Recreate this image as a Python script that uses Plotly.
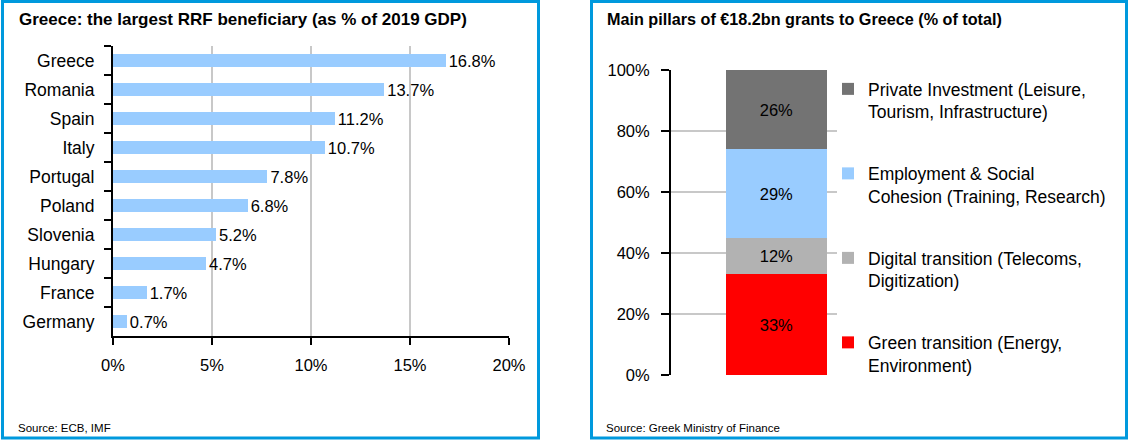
import plotly.graph_objects as go

# ---------------- data ----------------
countries = ["Greece", "Romania", "Spain", "Italy", "Portugal",
             "Poland", "Slovenia", "Hungary", "France", "Germany"]
rrf_pct = [16.8, 13.7, 11.2, 10.7, 7.8, 6.8, 5.2, 4.7, 1.7, 0.7]
x_tick_vals = [0, 5, 10, 15, 20]
x_tick_labels = ["0%", "5%", "10%", "15%", "20%"]

pillar_names = [
    "Green transition (Energy,<br>Environment)",
    "Digital transition (Telecoms,<br>Digitization)",
    "Employment & Social<br>Cohesion (Training, Research)",
    "Private Investment (Leisure,<br>Tourism, Infrastructure)",
]
pillar_pct = [33, 12, 29, 26]
pillar_colors = ["#FF0000", "#B2B2B2", "#99CCFF", "#737373"]
pillar_legend_rank = [4, 3, 2, 1]
y_tick_vals = [0, 20, 40, 60, 80, 100]
y_tick_labels = ["0%", "20%", "40%", "60%", "80%", "100%"]

left_title = "Greece: the largest RRF beneficiary (as % of 2019 GDP)"
right_title = "Main pillars of €18.2bn grants to Greece (% of total)"
left_source = "Source: ECB, IMF"
right_source = "Source: Greek Ministry of Finance"

# ---------------- layout helpers ----------------
W, H = 1130, 443
FONT = "Liberation Sans, Arial, sans-serif"


def px(x):
    return x / W


def py(y):
    return 1 - y / H


fig = go.Figure()

# left: horizontal bars
fig.add_trace(go.Bar(
    x=rrf_pct, y=countries, orientation="h",
    marker=dict(color="#99CCFF", line=dict(width=0)),
    width=0.46,
    texttemplate="%{x:.1f}%", textposition="outside",
    constraintext="none",
    textfont=dict(size=16.5, color="#000000", family=FONT),
    cliponaxis=False, showlegend=False,
    xaxis="x", yaxis="y", hoverinfo="x+y",
))

# right: stacked bar
for name, val, col, rank in zip(pillar_names, pillar_pct, pillar_colors,
                                pillar_legend_rank):
    fig.add_trace(go.Bar(
        x=[0], y=[val], name=name, legendgroup=name, legendrank=rank,
        marker=dict(color=col, line=dict(width=0)),
        width=0.61,
        text=[f"{val}%"], textposition="inside", insidetextanchor="middle",
        constraintext="none",
        textfont=dict(size=16.5, color="#000000", family=FONT),
        xaxis="x2", yaxis="y2",
    ))

fig.update_layout(
    template="none",
    width=W, height=H, autosize=False,
    margin=dict(l=0, r=0, t=0, b=0, pad=0, autoexpand=False),
    paper_bgcolor="white", plot_bgcolor="white",
    barmode="stack",
    font=dict(family=FONT, size=16.5, color="#000000"),
    xaxis=dict(
        domain=[px(113), px(509)], anchor="y", automargin=False,
        range=[0, 20], tickvals=x_tick_vals, ticktext=x_tick_labels,
        ticks="outside", ticklen=7, tickwidth=2, tickcolor="#000000",
        showline=True, linecolor="#000000", linewidth=2,
        showgrid=True, gridcolor="#C8C8C8", gridwidth=2,
        zeroline=False, ticklabelstandoff=6,
        tickfont=dict(size=16.5),
    ),
    yaxis=dict(
        domain=[py(336), py(46)], anchor="x", automargin=False,
        type="category", autorange="reversed",
        tickson="boundaries", ticks="outside", ticklen=7, tickwidth=2,
        tickcolor="#000000",
        showline=True, linecolor="#000000", linewidth=2,
        showgrid=False, zeroline=False, ticklabelstandoff=13,
        tickfont=dict(size=17.5),
    ),
    xaxis2=dict(
        domain=[px(671), px(837)], anchor="y2", automargin=False,
        range=[-0.635, 0.365], visible=False,
    ),
    yaxis2=dict(
        domain=[py(375), py(70)], anchor="x2", automargin=False,
        range=[0, 100], tickvals=y_tick_vals, ticktext=y_tick_labels,
        ticks="outside", ticklen=8, tickwidth=2, tickcolor="#000000",
        showline=True, linecolor="#000000", linewidth=2,
        showgrid=True, gridcolor="#C8C8C8", gridwidth=2,
        zeroline=False, ticklabelstandoff=8,
        tickfont=dict(size=16.5),
    ),
    legend=dict(
        x=px(828), y=py(71), xanchor="left", yanchor="top",
        traceorder="grouped", tracegroupgap=36,
        valign="top", font=dict(size=17.5, family=FONT),
        bgcolor="rgba(0,0,0,0)", borderwidth=0,
    ),
    showlegend=True,
)

# panel borders
for x0, x1 in [(2.5, 538.5), (591.5, 1126.5)]:
    fig.add_shape(type="rect", xref="paper", yref="paper",
                  x0=px(x0), x1=px(x1), y0=py(438), y1=py(1.5),
                  line=dict(color="#0099DD", width=3), layer="below")

# titles and sources
for txt, x, size in [(left_title, 17, 17.0), (right_title, 605, 16.2)]:
    fig.add_annotation(text=f"<b>{txt}</b>", xref="paper", yref="paper",
                       x=px(x), y=py(19), xanchor="left", yanchor="middle",
                       showarrow=False, font=dict(size=size, family=FONT))
for txt, x in [(left_source, 16), (right_source, 604)]:
    fig.add_annotation(text=txt, xref="paper", yref="paper",
                       x=px(x), y=py(428), xanchor="left", yanchor="middle",
                       showarrow=False, font=dict(size=11.5, family=FONT))

fig.write_html(
    "out.html",
    config={"displayModeBar": False},
    post_script="document.body.style.margin='0';"
                "document.body.style.overflow='hidden';",
)
